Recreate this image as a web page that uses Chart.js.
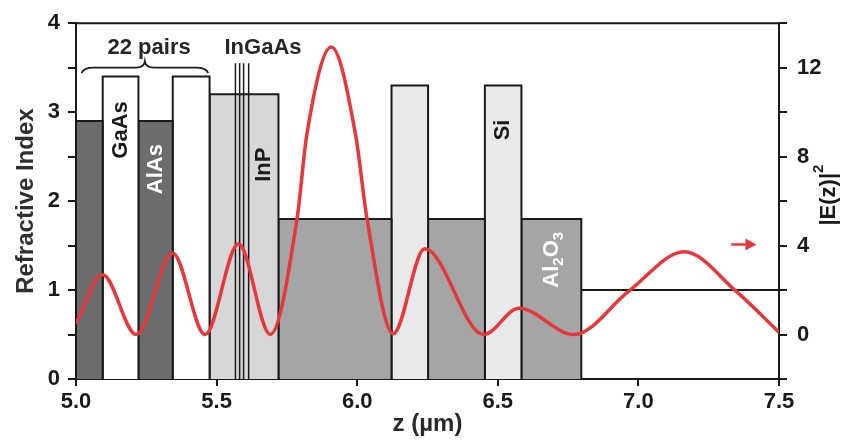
<!DOCTYPE html>
<html>
<head>
<meta charset="utf-8">
<script src="https://cdn.jsdelivr.net/npm/chart.js@4"></script>
<style>
  body { margin: 0; background: #fff; }
</style>
</head>
<body>
<canvas id="chart" width="848" height="445"></canvas>
<script>
// layer stack: edges in um, refractive index of each layer
const layerEdges = [5.0, 5.095, 5.222, 5.344, 5.475, 5.72, 6.122, 6.252, 6.454, 6.584, 6.797, 7.5];
const layerIndex = [2.9, 3.4, 2.9, 3.4, 3.2, 1.8, 3.3, 1.8, 3.3, 1.8, 1.0];
const layerMaterial = ['AlAs', 'GaAs', 'AlAs', 'GaAs', 'InP', 'Al2O3', 'Si', 'Al2O3', 'Si', 'Al2O3', 'Air'];

// thin InGaAs wells inside the InP
const wellZ = [5.567, 5.582, 5.596, 5.614];
const wellIndex = 3.55;

// |E(z)|^2
const fieldZ = [5.0, 5.095, 5.214, 5.344, 5.459, 5.578, 5.691, 5.786, 5.821, 5.908, 5.994, 6.035,
                6.128, 6.24, 6.45, 6.575, 6.771, 6.966, 7.163, 7.347, 7.5];
const fieldE = [0.5, 2.69, 0.0, 3.66, 0.0, 4.08, 0.0, 5.2, 9.0, 12.93, 9.0, 5.2,
                0.03, 3.86, 0.0, 1.18, 0.0, 1.95, 3.72, 1.95, 0.1];

const fillFor = {
  AlAs: '#6c6c6c',
  GaAs: '#ffffff',
  InP: '#d7d7d7',
  Al2O3: '#a5a5a5',
  Si: '#e9e9e9'
};

const ink = '#1a1a1a';
const red = '#e5383b';
const fontFam = '"Liberation Sans", Arial, sans-serif';
Chart.defaults.font.family = fontFam;
Chart.defaults.color = ink;

const datasets = [];

datasets.push({
  label: '|E(z)|2',
  data: fieldZ.map((z, i) => ({ x: z, y: fieldE[i] })),
  yAxisID: 'yE',
  borderColor: red,
  borderWidth: 3.5,
  pointRadius: 0,
  cubicInterpolationMode: 'monotone',
  fill: false,
  order: 0
});

wellZ.forEach(z => {
  datasets.push({
    label: 'InGaAs',
    data: [{ x: z, y: 0 }, { x: z, y: wellIndex }],
    yAxisID: 'y',
    borderColor: ink,
    borderWidth: 1.5,
    pointRadius: 0,
    fill: false,
    order: 1
  });
});

layerMaterial.forEach((m, i) => {
  const a = layerEdges[i], b = layerEdges[i + 1], n = layerIndex[i];
  const isAir = m === 'Air';
  datasets.push({
    label: m,
    data: isAir ? [{ x: a, y: n }, { x: b, y: n }]
                : [{ x: a, y: 0 }, { x: a, y: n }, { x: b, y: n }, { x: b, y: 0 }],
    yAxisID: 'y',
    borderColor: ink,
    borderWidth: 2,
    backgroundColor: isAir ? 'transparent' : fillFor[m],
    fill: isAir ? false : 'origin',
    pointRadius: 0,
    tension: 0,
    order: 2
  });
});

function vText(ctx, str, px, py, color, size) {
  ctx.save();
  ctx.translate(px, py);
  ctx.rotate(-Math.PI / 2);
  ctx.fillStyle = color;
  ctx.font = 'bold ' + size + 'px ' + fontFam;
  ctx.textAlign = 'center';
  ctx.textBaseline = 'middle';
  ctx.fillText(str, 0, 0);
  ctx.restore();
}

// rotated text with sub/superscript pieces: [text, shift] (shift >0 = sub, <0 = super)
function vRich(ctx, parts, px, py, color, size) {
  ctx.save();
  ctx.translate(px, py);
  ctx.rotate(-Math.PI / 2);
  ctx.fillStyle = color;
  ctx.textBaseline = 'middle';
  ctx.textAlign = 'left';
  const small = Math.round(size * 0.68);
  let w = 0;
  parts.forEach(p => {
    ctx.font = 'bold ' + (p[1] ? small : size) + 'px ' + fontFam;
    w += ctx.measureText(p[0]).width;
  });
  let cx = -w / 2;
  parts.forEach(p => {
    ctx.font = 'bold ' + (p[1] ? small : size) + 'px ' + fontFam;
    ctx.fillText(p[0], cx, p[1] * size);
    cx += ctx.measureText(p[0]).width;
  });
  ctx.restore();
}

const mid = i => (layerEdges[i] + layerEdges[i + 1]) / 2;

const annotate = {
  id: 'annotate',
  afterDatasetsDraw(chart) {
    const { ctx, scales: { x, y, yE } } = chart;
    const X = v => x.getPixelForValue(v);
    const Y = v => y.getPixelForValue(v);

    // layer names
    vText(ctx, 'GaAs', X(mid(1)), Y(2.8), ink, 22);
    vText(ctx, 'AlAs', X(mid(2)), Y(2.36), '#ffffff', 22);
    vText(ctx, 'InP', X((wellZ[3] + layerEdges[5]) / 2), Y(2.41), ink, 22);
    vText(ctx, 'Si', X(mid(8)), Y(2.8), ink, 22);
    vRich(ctx, [['Al', 0], ['2', 0.3], ['O', 0], ['3', 0.3]], X(mid(9)) + 1, Y(1.34), '#ffffff', 22);

    // top labels
    ctx.save();
    ctx.fillStyle = '#262626';
    ctx.font = 'bold 22px ' + fontFam;
    ctx.textAlign = 'center';
    ctx.textBaseline = 'middle';
    ctx.fillText('22 pairs', X(5.26), Y(3.72));
    ctx.fillText('InGaAs', X(5.665), Y(3.72));
    ctx.restore();

    // brace over the mirror pairs
    const x0 = X(5.02), x1 = X(5.47), xc = X(5.245);
    const yEnd = Y(3.44), yMid = Y(3.5), yTip = Y(3.57);
    ctx.save();
    ctx.strokeStyle = ink;
    ctx.lineWidth = 1.8;
    ctx.beginPath();
    ctx.moveTo(x0, yEnd);
    ctx.quadraticCurveTo(x0 + 2, yMid, x0 + 12, yMid);
    ctx.lineTo(xc - 9, yMid);
    ctx.quadraticCurveTo(xc - 1, yMid, xc, yTip);
    ctx.quadraticCurveTo(xc + 1, yMid, xc + 9, yMid);
    ctx.lineTo(x1 - 12, yMid);
    ctx.quadraticCurveTo(x1 - 2, yMid, x1, yEnd);
    ctx.stroke();
    ctx.restore();

    // arrow pointing at the right axis
    const ay = yE.getPixelForValue(4.05);
    const ax0 = X(7.33), ax1 = X(7.42);
    ctx.save();
    ctx.strokeStyle = red;
    ctx.fillStyle = red;
    ctx.lineWidth = 2.5;
    ctx.beginPath();
    ctx.moveTo(ax0, ay);
    ctx.lineTo(ax1 - 8, ay);
    ctx.stroke();
    ctx.beginPath();
    ctx.moveTo(ax1, ay);
    ctx.lineTo(ax1 - 11, ay - 6);
    ctx.lineTo(ax1 - 11, ay + 6);
    ctx.closePath();
    ctx.fill();
    ctx.restore();
  },
  afterDraw(chart) {
    const { ctx, chartArea } = chart;
    ctx.save();
    ctx.strokeStyle = ink;
    ctx.lineWidth = 2;
    ctx.beginPath();
    ctx.moveTo(chartArea.left, chartArea.top);
    ctx.lineTo(chartArea.right, chartArea.top);
    ctx.stroke();
    ctx.restore();
    // right axis title with superscript
    vRich(ctx, [['|E(z)|', 0], ['2', -0.45]], 829, (chartArea.top + chartArea.bottom) / 2 - 6, ink, 22);
  }
};

new Chart(document.getElementById('chart'), {
  type: 'line',
  data: { datasets: datasets },
  options: {
    responsive: false,
    animation: false,
    devicePixelRatio: 1,
    layout: { padding: { top: 17, left: 0, right: 0, bottom: 0 } },
    plugins: { legend: { display: false }, tooltip: { enabled: false } },
    scales: {
      x: {
        type: 'linear',
        min: 5.0,
        max: 7.5,
        afterFit: s => { s.height = 66; },
        border: { color: ink, width: 2 },
        grid: { drawOnChartArea: false, color: ink, lineWidth: 2, tickLength: 7 },
        ticks: {
          stepSize: 0.5,
          padding: 3,
          color: ink,
          font: { size: 22, weight: 'bold' },
          callback: v => v.toFixed(1)
        },
        title: {
          display: true,
          text: 'z (\u00b5m)',
          color: '#2a2a2a',
          font: { size: 24, weight: 'bold' },
          padding: { top: 0, bottom: 6 }
        }
      },
      y: {
        position: 'left',
        min: 0,
        max: 4,
        afterFit: s => { s.width = 76; },
        border: { color: ink, width: 2 },
        grid: { drawOnChartArea: false, color: ink, lineWidth: 2, tickLength: 8 },
        ticks: {
          stepSize: 0.5,
          padding: 8,
          autoSkip: false,
          color: ink,
          font: { size: 22, weight: 'bold' },
          callback: v => Number.isInteger(v) ? v : ''
        },
        title: {
          display: true,
          text: 'Refractive Index',
          color: '#2f2f2f',
          font: { size: 24, weight: 'bold' },
          padding: { top: 12, bottom: 0 }
        }
      },
      yE: {
        position: 'right',
        min: -2,
        max: 14,
        afterFit: s => { s.width = 69; },
        border: { color: ink, width: 2 },
        grid: { drawOnChartArea: false, color: ink, lineWidth: 2, tickLength: 8 },
        ticks: {
          stepSize: 2,
          padding: 10,
          autoSkip: false,
          color: ink,
          font: { size: 22, weight: 'bold' },
          callback: v => (v >= 0 && v % 4 === 0) ? v : ''
        }
      }
    }
  },
  plugins: [annotate]
});
</script>
</body>
</html>
